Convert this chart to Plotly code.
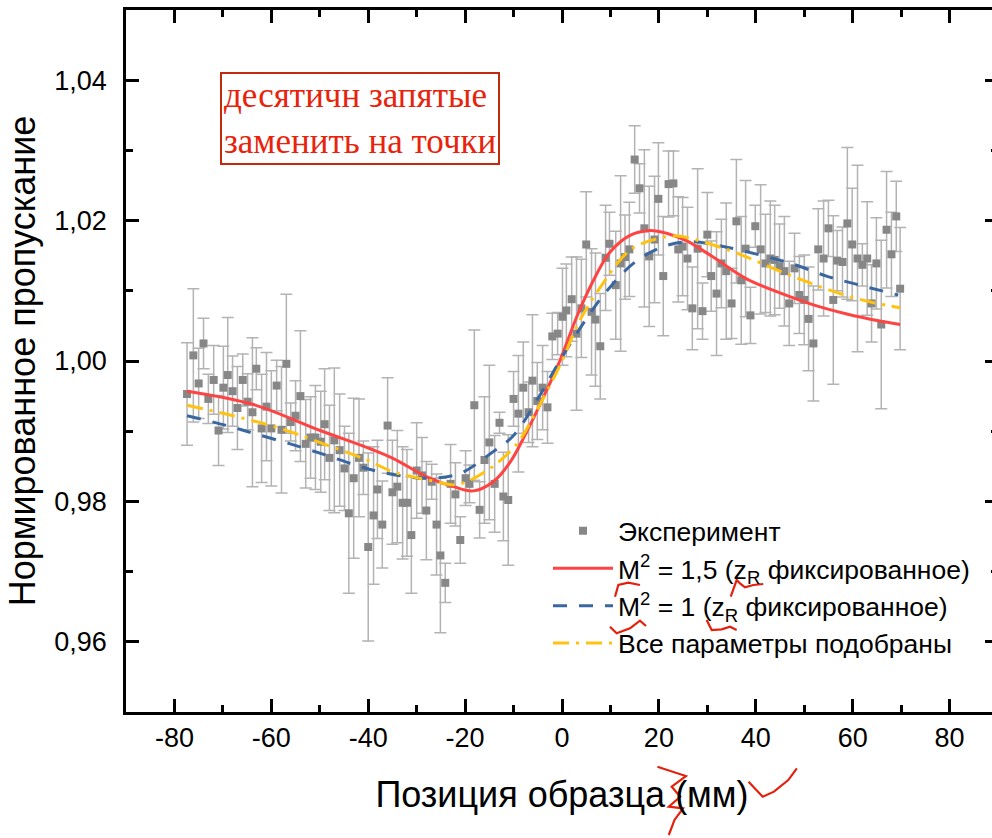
import plotly.graph_objects as go

# ---------------- data ----------------
x_exp = [
    -77.4, -76.1, -75.0, -74.0, -73.0, -71.9, -70.9, -69.9, -69.0, -68.0,
    -67.0, -65.9, -64.9, -63.9, -63.1, -62.0, -61.0, -60.0, -58.9, -57.9,
    -56.9, -56.0, -55.0, -54.0, -52.9, -51.9, -50.9, -49.8, -49.0, -48.0,
    -47.0, -45.9, -44.9, -44.0, -43.0, -41.9, -41.0, -40.0,
    -38.9, -38.1, -37.1, -36.0, -35.0, -34.0, -32.9, -32.0, -31.1, -30.0,
    -28.9, -28.0, -26.9, -25.9, -25.1, -24.1, -23.0, -22.0, -21.0, -19.9,
    -19.1, -18.1, -17.0, -16.0, -15.0, -13.9, -12.9, -12.1, -11.1, -10.0,
    -9.0, -8.0, -6.9, -6.1, -5.1, -4.0, -3.0, -2.0, -0.9, 0.1,
    0.9, 2.0, 3.0, 4.0, 5.0, 6.1, 6.9, 7.9, 9.0, 9.8,
    11.1, 12.1, 13.0, 13.9, 15.0, 16.0, 17.0, 18.0, 19.1, 19.9,
    20.9, 22.0, 23.0, 24.0, 24.9, 25.9, 26.9, 28.0, 29.0, 30.0,
    30.8, 31.9, 32.9, 33.9, 35.0, 36.0, 37.0, 37.9, 38.9, 39.9,
    41.0, 42.0, 43.0, 43.9, 44.9, 45.9, 46.9, 48.0, 49.0, 50.0,
    50.9, 51.9, 52.9, 54.0, 55.0, 56.0, 56.8, 57.9, 58.9, 59.9,
    61.0, 62.0, 63.0, 63.9, 64.9, 65.9, 67.0, 68.0, 69.0, 69.8,
]
y_exp = [
    0.9953, 1.0008, 0.9968, 1.0025, 0.9946, 0.9973, 0.9901, 0.9962, 0.9980, 0.9957,
    0.9933, 0.9973, 0.9942, 0.9927, 0.9989, 0.9904, 0.9935, 0.9904, 0.9965, 0.9902,
    0.9996, 0.9913, 0.9922, 0.9950, 0.9882, 0.9891, 0.9891, 0.9885, 0.9910, 0.9862,
    0.9887, 0.9873, 0.9847, 0.9783, 0.9833, 0.9862, 0.9848, 0.9735,
    0.9780, 0.9817, 0.9767, 0.9908, 0.9813, 0.9821, 0.9798, 0.9798, 0.9752, 0.9844,
    0.9837, 0.9787, 0.9828, 0.9767, 0.9723, 0.9684, 0.9825, 0.9810, 0.9745, 0.9833,
    0.9825, 0.9937, 0.9788, 0.9859, 0.9884, 0.9825, 0.9912, 0.9807, 0.9802, 0.9946,
    0.9925, 0.9962, 0.9927, 0.9972, 0.9943, 0.9962, 0.9934, 1.0035, 1.0039, 1.0063,
    1.0072, 1.0088, 1.0039, 1.0075, 1.0166, 1.0070, 1.0059, 1.0021, 1.0147, 1.0167,
    1.0108, 1.0139, 1.0148, 1.0159, 1.0287, 1.0246, 1.0189, 1.0149, 1.0173, 1.0231,
    1.0121, 1.0252, 1.0253, 1.0159, 1.0163, 1.0146, 1.0075, 1.0160, 1.0071, 1.0180,
    1.0121, 1.0096, 1.0139, 1.0128, 1.0082, 1.0199, 1.0115, 1.0160, 1.0065, 1.0192,
    1.0159, 1.0139, 1.0146, 1.0144, 1.0135, 1.0128, 1.0082, 1.0132, 1.0094, 1.0087,
    1.0060, 1.0025, 1.0159, 1.0146, 1.0189, 1.0087, 1.0143, 1.0141, 1.0196, 1.0166,
    1.0146, 1.0137, 1.0146, 1.0082, 1.0139, 1.0052, 1.0187, 1.0152, 1.0206, 1.0103,
]
err_exp = [
    0.0073, 0.0095, 0.0050, 0.0036, 0.0035, 0.0049, 0.0050, 0.0059, 0.0082, 0.0050,
    0.0059, 0.0037, 0.0040, 0.0106, 0.0030, 0.0077, 0.0077, 0.0082, 0.0036, 0.0090,
    0.0099, 0.0027, 0.0050, 0.0093, 0.0063, 0.0058, 0.0074, 0.0072, 0.0079, 0.0075,
    0.0103, 0.0080, 0.0060, 0.0114, 0.0114, 0.0084, 0.0038, 0.0134,
    0.0098, 0.0070, 0.0062, 0.0068, 0.0074, 0.0080, 0.0080, 0.0076, 0.0083, 0.0068,
    0.0054, 0.0070, 0.0025, 0.0072, 0.0110, 0.0028, 0.0056, 0.0045, 0.0033, 0.0039,
    0.0027, 0.0107, 0.0040, 0.0090, 0.0110, 0.0069, 0.0015, 0.0063, 0.0093, 0.0039,
    0.0083, 0.0065, 0.0043, 0.0094, 0.0055, 0.0060, 0.0051, 0.0033, 0.0030, 0.0069,
    0.0066, 0.0060, 0.0109, 0.0070, 0.0075, 0.0090, 0.0095, 0.0075, 0.0075, 0.0045,
    0.0077, 0.0125, 0.0060, 0.0067, 0.0048, 0.0035, 0.0112, 0.0100, 0.0090, 0.0080,
    0.0085, 0.0047, 0.0046, 0.0075, 0.0070, 0.0073, 0.0059, 0.0114, 0.0040, 0.0060,
    0.0050, 0.0088, 0.0063, 0.0097, 0.0050, 0.0088, 0.0091, 0.0097, 0.0040, 0.0030,
    0.0092, 0.0070, 0.0082, 0.0078, 0.0060, 0.0078, 0.0060, 0.0050, 0.0055, 0.0064,
    0.0074, 0.0082, 0.0058, 0.0082, 0.0040, 0.0120, 0.0043, 0.0050, 0.0108, 0.0080,
    0.0133, 0.0030, 0.0081, 0.0055, 0.0065, 0.0120, 0.0083, 0.0060, 0.0050, 0.0087,
]

# fit curve M^2 = 1.5 (red)
x_m15 = [-77.4, -63.7, -49.9, -39.6, -34.8, -27.9, -22.4, -18.3, -14.2, -10.7,
         -7.3, -3.8, -0.4, 3.05, 6.5, 9.9, 14.05, 18.2, 21.6, 25.75,
         31.2, 38.1, 45.0, 51.9, 58.8, 65.6, 69.8]
y_m15 = [0.9957, 0.9938, 0.9901, 0.9875, 0.9861, 0.9835, 0.9821, 0.9815, 0.9828, 0.9856,
         0.9899, 0.9949, 1.0001, 1.0063, 1.0115, 1.0155, 1.0179, 1.0186, 1.0182, 1.0171,
         1.0148, 1.0117, 1.0097, 1.0080, 1.0067, 1.0057, 1.0052]

# fit curve M^2 = 1 (blue)
x_m1 = [-77.4, -69.2, -63.7, -56.1, -49.2, -42.3, -36.9, -27.9, -21.0, -14.8,
        -10.0, -5.2, -0.4, 5.8, 9.9, 15.1, 20.9, 26.4, 33.3, 40.9,
        47.75, 54.6, 61.5, 69.4]
y_m1 = [0.9922, 0.9908, 0.9897, 0.9882, 0.9867, 0.9851, 0.9841, 0.9833, 0.9840, 0.9868,
        0.9894, 0.9944, 1.0001, 1.0068, 1.0105, 1.0141, 1.0163, 1.0170, 1.0163, 1.0151,
        1.0138, 1.0121, 1.0108, 1.0094]

# all parameters fitted (yellow)
x_all = [-77.4, -68.5, -58.2, -49.2, -40.3, -34.8, -26.5, -21.7, -15.5, -9.3,
         -5.2, -0.4, 3.7, 7.9, 14.05, 19.6, 23.7, 29.9, 36.75, 43.6,
         50.5, 57.4, 64.3, 69.8]
y_all = [0.9937, 0.9923, 0.9904, 0.9882, 0.9859, 0.9842, 0.9829, 0.9824, 0.9844, 0.9882,
         0.9930, 0.9994, 1.0058, 1.0105, 1.0158, 1.0174, 1.0178, 1.0168, 1.0152, 1.0132,
         1.0113, 1.0096, 1.0083, 1.0076]

x_tickvals = [-80, -60, -40, -20, 0, 20, 40, 60, 80]
x_ticktext = ["-80", "-60", "-40", "-20", "0", "20", "40", "60", "80"]
x_minorvals = [-90, -70, -50, -30, -10, 10, 30, 50, 70]
y_tickvals = [0.96, 0.98, 1.00, 1.02, 1.04]
y_ticktext = ["0,96", "0,98", "1,00", "1,02", "1,04"]
y_minorvals = [0.95, 0.97, 0.99, 1.01, 1.03, 1.05]

legend_names = [
    "Эксперимент",
    "M<sup>2</sup> = 1,5 (z<sub>R</sub> фиксированное)",
    "M<sup>2</sup> = 1 (z<sub>R</sub> фиксированное)",
    "Все параметры подобраны",
]
note_text = "десятичн запятые<br>заменить на точки"

# hand-drawn red correction marks of the reference, as (pixel x, pixel y) on the page
pen_marks_px = [
    [(730.7, 596.7), (736.7, 580.0), (740.0, 583.3), (745.0, 587.3), (753.3, 585.0), (763.3, 584.0)],
    [(615.0, 596.7), (618.3, 585.0), (628.3, 582.7), (640.0, 585.0)],
    [(610.0, 626.7), (616.7, 633.3), (630.0, 628.3), (640.0, 620.7), (646.0, 626.0)],
    [(706.7, 620.0), (711.7, 630.0), (721.7, 629.3), (730.0, 626.7), (736.7, 630.0)],
    [(657.4, 766.7), (685.9, 776.0), (671.7, 786.7), (680.2, 796.7),
     (668.8, 806.7), (683.0, 808.3), (674.5, 820.0), (668.8, 835.0)],
    [(748.5, 781.7), (762.7, 796.7), (774.0, 791.7), (788.3, 780.0), (796.8, 768.3)],
]

FONT = "Liberation Sans, Arial, sans-serif"
FIG_W, FIG_H = 998, 838
M_L, M_R, M_T, M_B = 126, 0, 10, 126

fig = go.Figure()
fig.add_trace(go.Scatter(
    x=x_exp, y=y_exp, mode="markers", name=legend_names[0], legendgroup="g0",
    marker=dict(symbol="square", size=8, color="#878787"),
    error_y=dict(type="data", array=err_exp, visible=True,
                 color="#b3b3b3", thickness=1.5, width=6),
))
fig.add_trace(go.Scatter(
    x=x_m15, y=y_m15, mode="lines", name=legend_names[1], legendgroup="g1",
    line=dict(color="#ff4343", width=3, shape="spline", smoothing=1.0),
))
fig.add_trace(go.Scatter(
    x=x_m1, y=y_m1, mode="lines", name=legend_names[2], legendgroup="g2",
    line=dict(color="#3a67a0", width=3, dash="14px,12px", shape="spline", smoothing=1.0),
))
fig.add_trace(go.Scatter(
    x=x_all, y=y_all, mode="lines", name=legend_names[3], legendgroup="g3",
    line=dict(color="#ffc20e", width=3, dash="16px,7px,3px,7px", shape="spline", smoothing=1.0),
))

plot_w = FIG_W - M_L - M_R
plot_h = FIG_H - M_T - M_B


def to_paper(px, py):
    return (px - M_L) / plot_w, (FIG_H - M_B - py) / plot_h


shapes = []
for mark in pen_marks_px:
    pts = [to_paper(px, py) for px, py in mark]
    path = "M " + " L ".join(f"{a:.4f},{b:.4f}" for a, b in pts)
    shapes.append(dict(type="path", xref="paper", yref="paper", path=path,
                       line=dict(color="#e4200c", width=2.2)))

leg_x, leg_y = to_paper(548, 507)
note_x, note_y = to_paper(220, 72)

fig.update_layout(
    width=FIG_W, height=FIG_H,
    margin=dict(l=M_L, r=M_R, t=M_T, b=M_B, autoexpand=False),
    paper_bgcolor="white", plot_bgcolor="white",
    font=dict(family=FONT, color="black"),
    showlegend=True,
    legend=dict(
        x=leg_x, y=leg_y, xanchor="left", yanchor="top",
        bgcolor="rgba(0,0,0,0)", borderwidth=0,
        font=dict(family=FONT, size=26.5, color="black"),
        itemwidth=60, tracegroupgap=4, traceorder="normal",
    ),
    annotations=[dict(
        xref="paper", yref="paper", x=note_x, y=note_y,
        xanchor="left", yanchor="top", align="left", showarrow=False,
        text=note_text,
        font=dict(family="Liberation Serif, Times New Roman, serif", size=35, color="#e8230c"),
        bordercolor="#c22a10", borderwidth=2, borderpad=2,
    )],
    shapes=shapes,
)

fig.update_xaxes(
    range=[-90, 90],
    showline=True, linewidth=2.5, linecolor="black", mirror="ticks",
    ticks="inside", ticklen=13, tickwidth=2.5, tickcolor="black",
    showgrid=False, zeroline=False,
    tickmode="array", tickvals=x_tickvals, ticktext=x_ticktext,
    minor=dict(tickmode="array", tickvals=x_minorvals, ticks="inside",
               ticklen=7, tickwidth=2.5, tickcolor="black"),
    tickfont=dict(family=FONT, size=27, color="black"),
    title=dict(text="Позиция образца (мм)",
               font=dict(family=FONT, size=36, color="black"), standoff=30),
)
fig.update_yaxes(
    range=[0.95, 1.05],
    showline=True, linewidth=2.5, linecolor="black", mirror="ticks",
    ticks="inside", ticklen=13, tickwidth=2.5, tickcolor="black",
    showgrid=False, zeroline=False,
    tickmode="array", tickvals=y_tickvals, ticktext=y_ticktext,
    minor=dict(tickmode="array", tickvals=y_minorvals, ticks="inside",
               ticklen=7, tickwidth=2.5, tickcolor="black"),
    ticklabelstandoff=11,
    tickfont=dict(family=FONT, size=27, color="black"),
    title=dict(text="Нормированное пропускание",
               font=dict(family=FONT, size=36, color="black"), standoff=8),
)

fig.write_html(
    "out.html",
    config={"displayModeBar": False},
    post_script="document.body.style.margin='0';document.body.style.overflow='hidden';",
)
